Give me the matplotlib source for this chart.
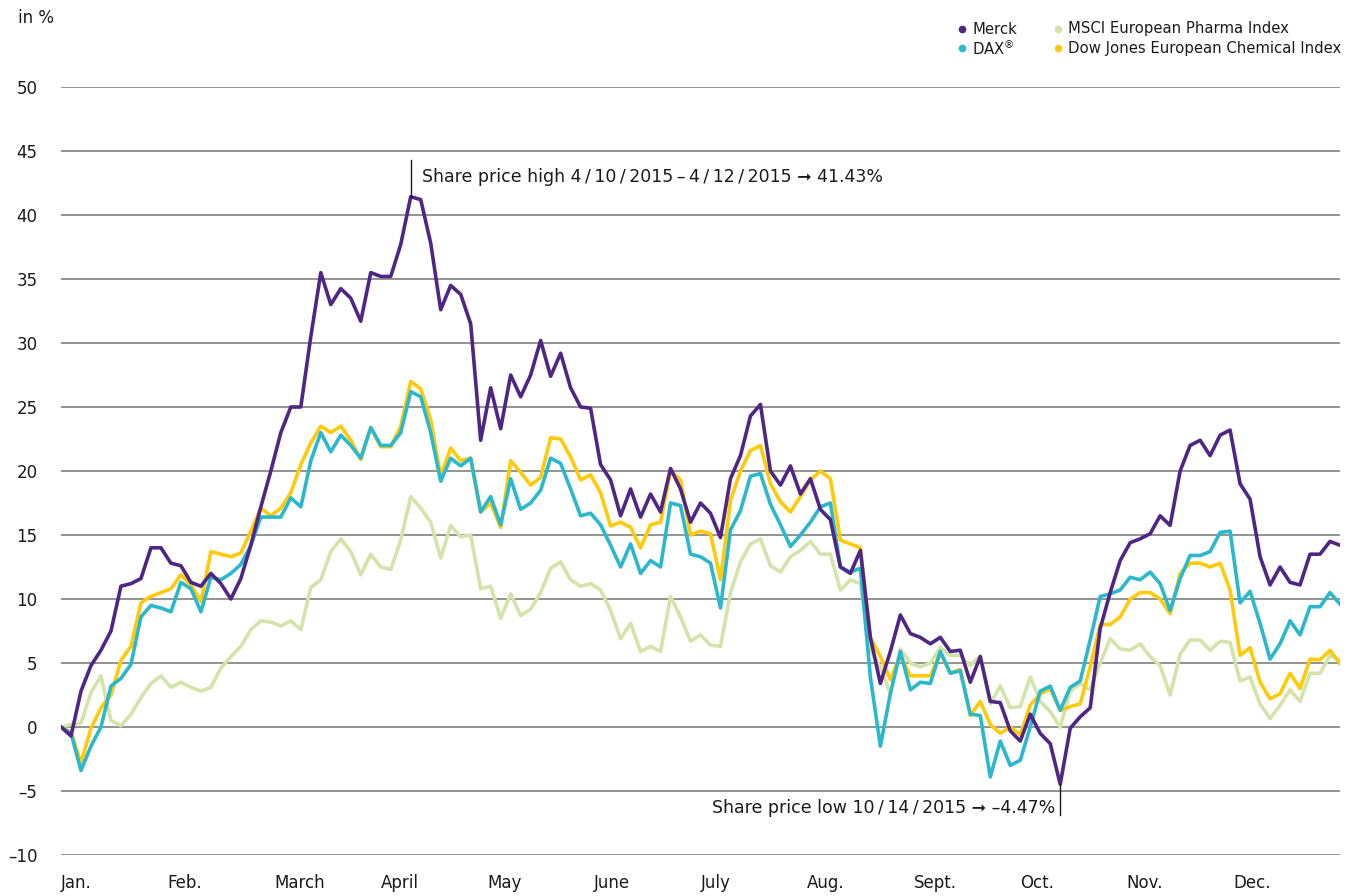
import numpy as np
import matplotlib
matplotlib.use("Agg")
import matplotlib.pyplot as plt

# performance 2015 in %, sampled evenly through the year (129 points, Jan 1 -> Dec 31)
merck = [0, -0.7, 2.8, 4.8, 6.0, 7.5, 11, 11.2, 11.6, 14, 14, 12.8, 12.6, 11.3, 11, 12,
         11.2, 10, 11.6, 14.2, 17.2, 20, 23, 25, 25, 30.5, 35.5, 33, 34.25, 33.5, 31.7, 35.5,
         35.2, 35.2, 37.7, 41.43, 41.2, 37.8, 32.6, 34.5, 33.8, 31.5, 22.4, 26.5, 23.3, 27.5,
         25.8, 27.5, 30.2, 27.4, 29.2, 26.5, 25, 24.9, 20.5, 19.3, 16.5, 18.6, 16.4, 18.2,
         16.8, 20.2, 18.6, 16, 17.5, 16.7, 14.8, 19.4, 21.2, 24.3, 25.2, 20, 18.9, 20.4, 18.2,
         19.4, 17, 16.2, 12.5, 12, 13.8, 7, 3.4, 5.9, 8.75, 7.3, 7, 6.5, 7, 5.9, 6, 3.5, 5.5,
         2, 1.9, -0.3, -1.1, 1, -0.5, -1.3, -4.47, -0.1, 0.8, 1.5, 7.7, 10.5, 13, 14.4, 14.7,
         15.1, 16.5, 15.75, 20, 22, 22.4, 21.2, 22.8, 23.2, 19, 17.8, 13.3, 11.1, 12.5, 11.3,
         11.1, 13.5, 13.5, 14.5, 14.2]
dax = [0, -0.5, -3.4, -1.5, 0, 3.2, 3.8, 4.9, 8.6, 9.5, 9.3, 9, 11.3, 10.8, 9, 11.7,
       11.5, 12, 12.7, 14.2, 16.4, 16.4, 16.4, 17.9, 17.2, 20.8, 23, 21.5, 22.8, 22, 21, 23.4,
       22, 22, 23, 26.2, 25.8, 23, 19.2, 21, 20.4, 21, 16.8, 18, 15.8, 19.4, 17, 17.5, 18.5,
       21, 20.6, 18.6, 16.5, 16.7, 15.8, 14.2, 12.5, 14.3, 12, 13, 12.5, 17.5, 17.3, 13.5,
       13.3, 12.8, 9.3, 15.4, 16.9, 19.6, 19.8, 17.4, 15.8, 14.1, 15, 16, 17.2, 17.5, 12.5,
       12.1, 12.4, 3.9, -1.5, 2.6, 5.9, 2.9, 3.5, 3.4, 5.9, 4.2, 4.4, 1, 0.9, -3.9, -1.1, -3,
       -2.6, 0, 2.8, 3.2, 1.3, 3.1, 3.6, 6.8, 10.2, 10.4, 10.7, 11.7, 11.5, 12.1, 11.2, 9.1,
       11.6, 13.4, 13.4, 13.7, 15.2, 15.3, 9.7, 10.6, 8.1, 5.3, 6.5, 8.3, 7.2, 9.4, 9.4,
       10.5, 9.6]
msci = [0, 0.2, 0.3, 2.7, 4, 0.5, 0.1, 1, 2.3, 3.4, 4, 3.1, 3.5, 3.1, 2.8, 3.1, 4.6, 5.5,
        6.3, 7.6, 8.3, 8.2, 7.9, 8.3, 7.6, 10.9, 11.5, 13.7, 14.7, 13.7, 11.9, 13.5, 12.5,
        12.3, 14.6, 18, 17.1, 16, 13.2, 15.75, 14.85, 15, 10.8, 11, 8.5, 10.4, 8.7, 9.2, 10.5,
        12.4, 12.9, 11.5, 11, 11.2, 10.7, 9.1, 6.9, 8.1, 5.9, 6.3, 5.9, 10.2, 8.6, 6.7, 7.2,
        6.4, 6.3, 10.5, 12.9, 14.3, 14.7, 12.6, 12.1, 13.3, 13.8, 14.5, 13.5, 13.5, 10.7,
        11.5, 11.2, 6.0, 4.7, 2.6, 6.1, 5, 4.7, 5, 6.2, 5.6, 5.6, 4.8, 5.6, 1.8, 3.2, 1.5,
        1.6, 3.9, 2, 1.2, 0, 2.8, 3.4, 2.9, 5, 6.9, 6.1, 6, 6.5, 5.5, 4.8, 2.5, 5.7, 6.8,
        6.8, 6, 6.7, 6.6, 3.6, 3.9, 1.8, 0.65, 1.7, 2.9, 2, 4.2, 4.2, 5.6, 5.2]
djchem = [0, -0.4, -2.8, -0.1, 1.5, 2.5, 5.2, 6.3, 9.7, 10.2, 10.5, 10.8, 11.9, 11.1, 9.8,
          13.7, 13.5, 13.3, 13.6, 15.3, 17.1, 16.5, 17.1, 18.3, 20.5, 22.2, 23.5, 23, 23.5,
          22.4, 20.9, 23.4, 21.9, 21.9, 23.5, 27, 26.4, 24, 19.6, 21.8, 20.8, 21, 16.8, 17.5,
          15.6, 20.8, 19.9, 18.9, 19.5, 22.6, 22.5, 21.1, 19.3, 19.7, 18.3, 15.7, 16, 15.6, 14,
          15.8, 16, 20, 19.3, 15, 15.3, 15.1, 11.5, 17.7, 20, 21.6, 22, 19, 17.6, 16.8, 18,
          19.3, 20, 19.4, 14.6, 14.3, 14, 7, 5.5, 3.7, 5.6, 4, 4, 4, 5.8, 4.2, 4.5, 0.9, 2,
          0.2, -0.5, 0, -0.6, 1.7, 2.6, 3, 1.3, 1.6, 1.8, 4.7, 8, 8, 8.6, 10, 10.5, 10.5, 10,
          8.85, 12, 12.8, 12.8, 12.5, 12.8, 10.7, 5.6, 6.2, 3.5, 2.2, 2.6, 4.2, 3, 5.3, 5.25,
          6, 4.95]

months = ["Jan.", "Feb.", "March", "April", "May", "June", "July", "Aug.", "Sept.",
          "Oct.", "Nov.", "Dec."]
yticks = list(range(-10, 55, 5))

C_MERCK, C_DAX, C_MSCI, C_DJ = "#4f2683", "#2cb8cc", "#d3e4aa", "#ffca0a"
GRID, TXT = "#808080", "#1a1a1a"

plt.rcParams["font.family"] = ["DejaVu Sans"]

fig = plt.figure(figsize=(13.6, 8.96), dpi=100)
ax = fig.add_axes([61 / 1360, 1 - 855 / 896, 1279 / 1360, 768 / 896])

x = np.linspace(0, 12, len(merck))
ax.plot(x, msci, color=C_MSCI, lw=2.6, solid_joinstyle="round", zorder=3)
ax.plot(x, djchem, color=C_DJ, lw=2.6, solid_joinstyle="round", zorder=4)
ax.plot(x, dax, color=C_DAX, lw=2.6, solid_joinstyle="round", zorder=5)
ax.plot(x, merck, color=C_MERCK, lw=2.6, solid_joinstyle="round", zorder=6)

ax.set_xlim(0, 12)
ax.set_ylim(-10, 50)
ax.set_yticks(yticks)
ax.set_yticklabels([str(v).replace("-", "\u2013") for v in yticks], fontsize=12, color=TXT)
for v in yticks:
    ax.axhline(v, color=GRID, lw=1.2, zorder=1)
ax.set_xticks(range(12))
ax.set_xticklabels(months, fontsize=12, color=TXT, ha="left")
ax.tick_params(length=0)
ax.tick_params(axis="y", pad=17)
ax.tick_params(axis="x", pad=14)
for sp in ax.spines.values():
    sp.set_visible(False)

fig.text(18 / 1360, 1 - 18 / 896, "in %", fontsize=12, color=TXT, va="center")

# share price high / low markers
ih = int(np.argmax(merck)); il = int(np.argmin(merck))
ax.plot([x[ih], x[ih]], [merck[ih], 44.3], color=TXT, lw=1, zorder=7, clip_on=False)
ax.text(x[ih] + 0.11, 43.0, "Share price high 4\u2009/\u200910\u2009/\u20092015\u2009\u2013\u20094\u2009/\u200912\u2009/\u20092015 \u279e 41.43%",
        fontsize=12.5, color=TXT, va="center", ha="left")
ax.plot([x[il], x[il]], [merck[il], -6.9], color=TXT, lw=1, zorder=7, clip_on=False)
ax.text(x[il] - 0.05, -6.3, "Share price low 10\u2009/\u200914\u2009/\u20092015 \u279e \u20134.47%",
        fontsize=12.5, color=TXT, va="center", ha="right")

# legend
leg = [("Merck", C_MERCK, 962, 29), (r"DAX$^{\circledR}$", C_DAX, 962, 48),
       ("MSCI European Pharma Index", C_MSCI, 1058, 29),
       ("Dow Jones European Chemical Index", C_DJ, 1058, 48)]
for label, col, lx, ly in leg:
    fig.add_artist(plt.Line2D([lx / 1360], [1 - ly / 896], marker="o", ms=4.5, color=col,
                              lw=0, transform=fig.transFigure))
    fig.text((lx + 10) / 1360, 1 - ly / 896, label, fontsize=10.7, color=TXT, va="center")

fig.savefig("out.png", dpi=100, facecolor="white")
